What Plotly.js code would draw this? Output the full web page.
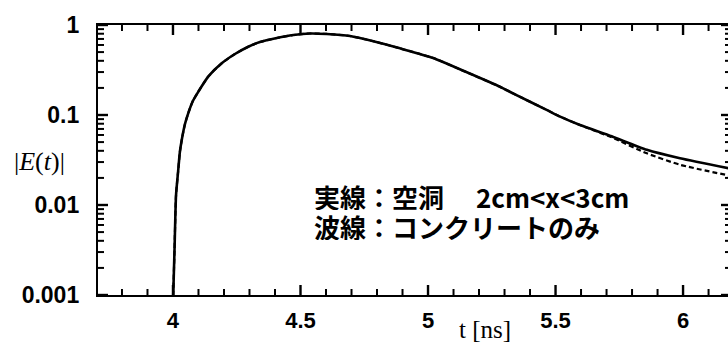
<!DOCTYPE html>
<html>
<head>
<meta charset="utf-8">
<script src="https://cdn.plot.ly/plotly-3.0.1.min.js"></script>
<style>
html,body{margin:0;padding:0;overflow:hidden;background:#fff;}
#chart{width:731px;height:344px;}
</style>
</head>
<body>
<div id="chart"></div>
<script>
// time [ns]
const tSolid = [4.000, 4.006, 4.012, 4.020, 4.027, 4.035, 4.047, 4.060, 4.078, 4.099, 4.138, 4.191, 4.243, 4.295, 4.341, 4.407, 4.472, 4.537, 4.603, 4.694, 4.786, 4.890, 5.020, 5.150, 5.282, 5.335, 5.465, 5.518, 5.596, 5.720, 5.858, 5.988, 6.190];
// |E(t)| with cavity 2cm<x<3cm (solid)
const eSolid = [0.0008, 0.00316, 0.0129, 0.0233, 0.0388, 0.0541, 0.0794, 0.105, 0.143, 0.181, 0.267, 0.375, 0.476, 0.574, 0.647, 0.717, 0.774, 0.805, 0.795, 0.755, 0.66, 0.55, 0.43, 0.30, 0.206, 0.173, 0.114, 0.096, 0.0774, 0.058, 0.041, 0.033, 0.0252];
// concrete only (dashed)
const tDash = [4.000, 4.006, 4.012, 4.020, 4.027, 4.035, 4.047, 4.060, 4.078, 4.099, 4.138, 4.191, 4.243, 4.295, 4.341, 4.407, 4.472, 4.537, 4.603, 4.694, 4.786, 4.890, 5.020, 5.150, 5.282, 5.335, 5.465, 5.518, 5.596, 5.720, 5.858, 5.988, 6.190];
const eDash = [0.0008, 0.00316, 0.0129, 0.0233, 0.0388, 0.0541, 0.0794, 0.105, 0.143, 0.181, 0.267, 0.375, 0.476, 0.574, 0.647, 0.717, 0.774, 0.805, 0.795, 0.755, 0.66, 0.55, 0.43, 0.30, 0.206, 0.173, 0.114, 0.096, 0.0774, 0.0565, 0.0375, 0.028, 0.021];

const xTickVals = [4, 4.5, 5, 5.5, 6];
const xTickText = ['4', '4.5', '5', '5.5', '6'];
const xMinorVals = [3.8, 3.9, 4.1, 4.2, 4.3, 4.4, 4.6, 4.7, 4.8, 4.9, 5.1, 5.2, 5.3, 5.4, 5.6, 5.7, 5.8, 5.9, 6.1];
const yTickVals = [0.001, 0.01, 0.1, 1];
const yTickText = ['0.001', '0.01', '0.1', '1'];
const yMinorVals = [0.002, 0.003, 0.004, 0.005, 0.006, 0.007, 0.008, 0.009,
                    0.02, 0.03, 0.04, 0.05, 0.06, 0.07, 0.08, 0.09,
                    0.2, 0.3, 0.4, 0.5, 0.6, 0.7, 0.8, 0.9];

const labelLine1 = '実線：空洞　 2cm&lt;x&lt;3cm';
const labelLine2 = '波線：コンクリートのみ';

const xRange = [3.706, 6.188];
const yRange = [-3, 0];

const W = 731, H = 344;
const M = {l: 98, r: 0, t: 25, b: 49};
const plotW = W - M.l - M.r, plotH = H - M.t - M.b;

// tick marks as shapes placed through the axes' own scales (inside ticks, mirrored)
const MAJOR_LEN = 10, MINOR_LEN = 6, MAJOR_W = 2.4, MINOR_W = 2;
const shapes = [];
function xTick(v, len, w) {
  const f = len / plotH;
  [[0, f], [1, 1 - f]].forEach(([a, b]) => shapes.push({
    type: 'line', xref: 'x', yref: 'paper',
    x0: v, x1: v, y0: a, y1: b, line: {color: '#000', width: w}, layer: 'above'
  }));
}
function yTick(v, len, w) {
  const f = len / plotW;
  [[0, f], [1, 1 - f]].forEach(([a, b]) => shapes.push({
    type: 'line', xref: 'paper', yref: 'y',
    x0: a, x1: b, y0: v, y1: v, line: {color: '#000', width: w}, layer: 'above'
  }));
}
xTickVals.forEach(v => xTick(v, MAJOR_LEN, MAJOR_W));
xMinorVals.forEach(v => xTick(v, MINOR_LEN, MINOR_W));
yTickVals.forEach(v => yTick(v, MAJOR_LEN, MAJOR_W));
yMinorVals.forEach(v => yTick(v, MINOR_LEN, MINOR_W));

const traces = [
  {x: tDash, y: eDash, type: 'scatter', mode: 'lines',
   line: {color: '#000', width: 2.2, dash: '5px,3px', shape: 'spline', smoothing: 0.6}, hoverinfo: 'skip'},
  {x: tSolid, y: eSolid, type: 'scatter', mode: 'lines',
   line: {color: '#000', width: 2.6, shape: 'spline', smoothing: 0.6}, hoverinfo: 'skip'}
];

const layout = {
  width: W, height: H,
  margin: {l: M.l, r: M.r, t: M.t, b: M.b, pad: 0},
  paper_bgcolor: '#fff', plot_bgcolor: '#fff',
  showlegend: false,
  xaxis: {
    range: xRange,
    tickmode: 'array', tickvals: xTickVals, ticktext: xTickText,
    ticks: '', showline: true, linewidth: 2.4, linecolor: '#000', mirror: true,
    showgrid: false, zeroline: false,
    tickfont: {family: 'Liberation Sans, Arial, sans-serif', size: 22, color: '#000', weight: 'bold'},
    ticklabelstandoff: 4
  },
  yaxis: {
    type: 'log', range: yRange,
    tickmode: 'array', tickvals: yTickVals, ticktext: yTickText,
    ticks: '', showline: true, linewidth: 2.4, linecolor: '#000', mirror: true,
    showgrid: false, zeroline: false,
    tickfont: {family: 'Liberation Sans, Arial, sans-serif', size: 23, color: '#000', weight: 'bold'},
    ticklabelstandoff: 12
  },
  shapes: shapes,
  annotations: [
    {xref: 'paper', yref: 'paper', x: -0.0932, y: 0.4926, xanchor: 'center', yanchor: 'middle',
     text: '|<i>E</i>(<i>t</i>)|', showarrow: false,
     font: {family: 'Liberation Serif, Times New Roman, serif', size: 26, color: '#000'}},
    {xref: 'paper', yref: 'paper', x: 0.611, y: -0.128, xanchor: 'center', yanchor: 'middle',
     text: 't [ns]', showarrow: false,
     font: {family: 'Liberation Serif, Times New Roman, serif', size: 25, color: '#000'}},
    {xref: 'paper', yref: 'paper', x: 0.338, y: 0.363, xanchor: 'left', yanchor: 'middle', height: 27,
     text: '<b>' + labelLine1 + '</b>', showarrow: false,
     font: {family: 'Noto Sans CJK JP, Noto Sans, sans-serif', size: 26, color: '#000'}},
    {xref: 'paper', yref: 'paper', x: 0.338, y: 0.252, xanchor: 'left', yanchor: 'middle', height: 27,
     text: '<b>' + labelLine2 + '</b>', showarrow: false,
     font: {family: 'Noto Sans CJK JP, Noto Sans, sans-serif', size: 26, color: '#000'}}
  ]
};

Plotly.newPlot('chart', traces, layout, {displayModeBar: false});
</script>
</body>
</html>
